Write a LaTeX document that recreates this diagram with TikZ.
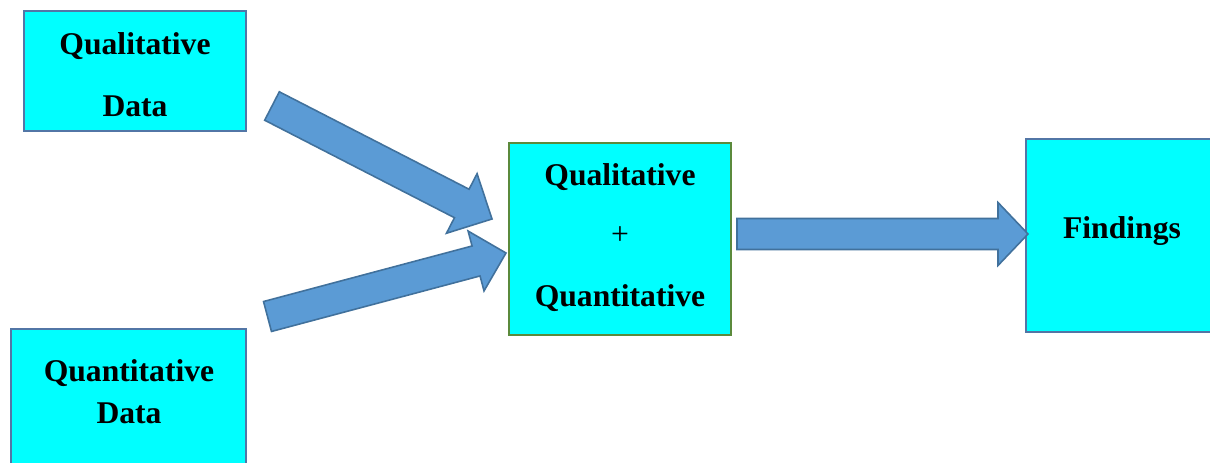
\documentclass[tikz,border=0pt]{standalone}
\usepackage{fontspec}
\setmainfont{Liberation Serif}
\usetikzlibrary{calc}
\definecolor{boxfill}{HTML}{00FFFF}
\definecolor{boxedge}{HTML}{5276A6}
\definecolor{midedge}{HTML}{5B8A3C}
\definecolor{arrfill}{HTML}{5B9BD5}
\definecolor{arredge}{HTML}{41719C}
\tikzset{
  databox/.style={draw=boxedge, fill=boxfill, line width=1.2pt},
  midbox/.style={draw=midedge, fill=boxfill, line width=1.2pt},
  boxtext/.style={font=\fontsize{18}{18}\selectfont\bfseries, inner sep=0pt, anchor=center, yshift=-1.7pt},
  blockarr/.style={draw=arredge, fill=arrfill, line width=0.9pt, line join=miter},
}
% #1 from, #2 to, #3 shaft half width, #4 head half width, #5 head length
\newcommand\blockarrow[5]{%
  \coordinate (ba-n) at ($(#2)!#5!(#1)$);
  \draw[blockarr] ($(#1)!#3!90:(#2)$) -- ($(ba-n)!#3!90:(#2)$) -- ($(ba-n)!#4!90:(#2)$)
    -- (#2) -- ($(ba-n)!#4!-90:(#2)$) -- ($(ba-n)!#3!-90:(#2)$) -- ($(#1)!#3!-90:(#2)$) -- cycle;}
\begin{document}
\begin{tikzpicture}[x=0.02cm, y=-0.02cm]
\useasboundingbox (0,0) rectangle (1210,463);
% boxes
\draw[databox] (24,11) rectangle (246,131);
\node[boxtext] (qual1) at (135,43) {Qualitative};
\node[boxtext] (qual2) at (135,103) {Data};
\draw[databox] (11,329) rectangle (246,480);
\node[boxtext] (quan1) at (129,370) {Quantitative};
\node[boxtext] (quan2) at (129,410) {Data};
\draw[midbox] (509,143) rectangle (731,335);
\node[boxtext] (mix1) at (620,174) {Qualitative};
\node[font=\fontsize{18}{18}\selectfont, inner sep=0pt] (mix2) at (620,236) {+};
\node[boxtext] (mix3) at (620,295) {Quantitative};
\draw[databox] (1026,139) rectangle (1214,332);
\node[boxtext] (find) at (1122,228) {Findings};
% arrow end points
\coordinate (a1s) at (272,106);
\coordinate (a1e) at (492,219);
\coordinate (a2s) at (267.5,316.5);
\coordinate (a2e) at (506,253);
\coordinate (a3s) at (737,234);
\coordinate (a3e) at (1028,234);
\blockarrow{a1s}{a1e}{0.32cm}{0.67cm}{0.68cm}
\blockarrow{a2s}{a2e}{0.31cm}{0.62cm}{0.62cm}
\blockarrow{a3s}{a3e}{0.31cm}{0.63cm}{0.60cm}
\end{tikzpicture}
\end{document}
